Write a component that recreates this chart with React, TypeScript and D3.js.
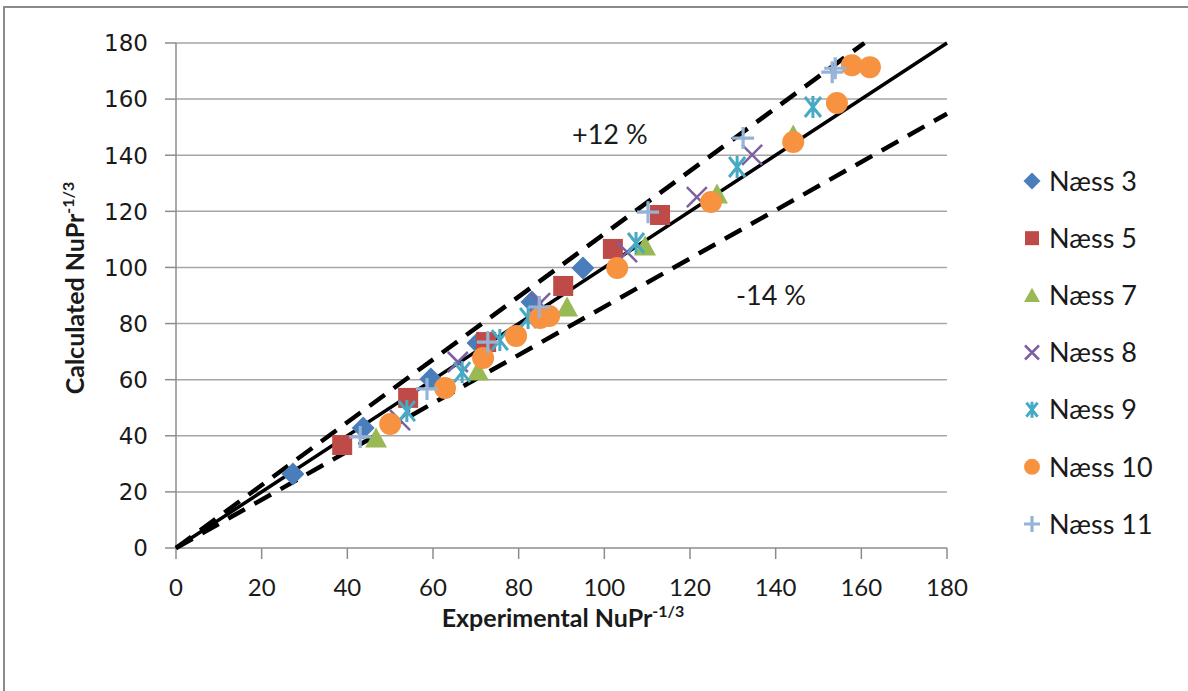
import React from "react";
import * as d3 from "d3";

// Experimental vs calculated NuPr^-1/3 for the Næss data sets
const naess3 = [
  [27.3, 26.4], [43.7, 42.8], [59.5, 60.2], [70.5, 73.1], [83.1, 87.7], [95.0, 99.8],
];
const naess5 = [
  [38.8, 36.7], [54.2, 53.5], [72.4, 73.4], [90.4, 93.4], [102.0, 106.6], [113.0, 118.7],
];
const naess7 = [
  [46.7, 39.2], [70.5, 63.1], [91.3, 85.9], [109.5, 107.6], [126.3, 126.2], [144.1, 147.2],
];
const naess8 = [
  [52.3, 45.6], [65.8, 66.3], [85.0, 87.3], [105.3, 105.5], [121.6, 125.1], [134.5, 140.1],
];
const naess9 = [
  [53.9, 48.8], [66.8, 62.7], [75.6, 74.1], [82.2, 82.0], [107.4, 108.7], [131.0, 135.8], [148.7, 157.2],
];
const naess10 = [
  [50.0, 44.2], [62.8, 57.0], [71.7, 67.7], [79.4, 75.6], [85.0, 82.0], [87.1, 82.7],
  [103.0, 99.8], [124.9, 123.3], [144.1, 144.7], [154.3, 158.6], [157.8, 172.1], [162.0, 171.4],
];
const naess11 = [
  [43.0, 39.6], [58.6, 56.7], [72.8, 73.4], [84.8, 85.9], [110.2, 119.7], [132.4, 146.1],
  [153.2, 169.6], [153.9, 171.0],
];

const seriesNames = ["Næss 3", "Næss 5", "Næss 7", "Næss 8", "Næss 9", "Næss 10", "Næss 11"];
const seriesData = [naess3, naess5, naess7, naess8, naess9, naess10, naess11];
const seriesColors = ["#4A7EBB", "#BE4B48", "#98B954", "#7D60A0", "#46AAC5", "#F69240", "#95B3D7"];
const seriesShapes = ["diamond", "square", "triangle", "x", "star", "circle", "plus"];

// Deviation band around the perfect-agreement line
const upperFactor = 1.12;
const lowerFactor = 0.86;
const axisTicks = [0, 20, 40, 60, 80, 100, 120, 140, 160, 180];

const W = 1188;
const H = 691;
const x = d3.scaleLinear().domain([0, 180]).range([176, 947]);
const y = d3.scaleLinear().domain([0, 180]).range([548, 43]);

function Marker({ shape, color, cx, cy, s }: { shape: string; color: string; cx: number; cy: number; s: number }) {
  const t = `translate(${cx},${cy})`;
  const r = s / 2;
  if (shape === "diamond") {
    const q = r + 1.5;
    return <path d={`M0,${-q}L${q},0L0,${q}L${-q},0Z`} transform={t} fill={color} />;
  }
  if (shape === "square") {
    return <rect x={cx - r} y={cy - r} width={s} height={s} fill={color} />;
  }
  if (shape === "triangle") {
    const h = s * 0.95;
    return (
      <path d={`M0,${-h / 2 - 1} L${r + 1},${h / 2} L${-r - 1},${h / 2} Z`} transform={t} fill={color} />
    );
  }
  if (shape === "circle") {
    return <circle cx={cx} cy={cy} r={r + 1} fill={color} />;
  }
  if (shape === "x") {
    return (
      <path d={`M${-r},${-r}L${r},${r}M${-r},${r}L${r},${-r}`} transform={t} stroke={color} strokeWidth={2.5} fill="none" />
    );
  }
  if (shape === "star") {
    const q = r * 0.8;
    return (
      <path
        d={`M${-q},${-r}L${q},${r}M${-q},${r}L${q},${-r}M0,${-r - 1}L0,${r + 1}`}
        transform={t}
        stroke={color}
        strokeWidth={3}
        fill="none"
      />
    );
  }
  // plus
  return (
    <path d={`M${-r - 1},0L${r + 1},0M0,${-r - 1}L0,${r + 1}`} transform={t} stroke={color} strokeWidth={3.2} fill="none" />
  );
}

export default function App() {
  const line = d3
    .line<number[]>()
    .x((d) => x(d[0]))
    .y((d) => y(d[1]));

  const equal = [[0, 0], [180, 180]];
  const upper = [[0, 0], [180 / upperFactor, 180]];
  const lower = [[0, 0], [180, 180 * lowerFactor]];

  const legendY = d3.scaleLinear().domain([0, 6]).range([181, 524]);

  return (
    <svg
      width={W}
      height={H}
      style={{ position: "absolute", left: 0, top: 0, background: "#fff" }}
      fontFamily="Lato, 'Noto Sans', sans-serif"
    >
      <rect x={0} y={0} width={W} height={H} fill="#fff" />
      <rect x={4} y={7} width={W + 20} height={H + 20} fill="none" stroke="#8a8a8a" strokeWidth={2} />

      {/* horizontal gridlines */}
      {axisTicks.slice(1).map((t) => (
        <line key={`g${t}`} x1={x(0)} x2={x(180)} y1={y(t)} y2={y(t)} stroke="#a6a6a6" strokeWidth={1.5} />
      ))}

      {/* axes */}
      <line x1={x(0)} x2={x(0)} y1={y(0)} y2={y(180)} stroke="#8c8c8c" strokeWidth={1.5} />
      <line x1={x(0)} x2={x(180)} y1={y(0)} y2={y(0)} stroke="#8c8c8c" strokeWidth={1.5} />
      {axisTicks.map((t) => (
        <g key={`yt${t}`}>
          <line x1={x(0) - 11} x2={x(0)} y1={y(t)} y2={y(t)} stroke="#8c8c8c" strokeWidth={1.5} />
          <text
            x={x(0) - 28}
            y={y(t)}
            dy="0.36em"
            textAnchor="end"
            fontFamily="'DejaVu Sans', sans-serif"
            fontSize={23}
            fill="#1a1a1a"
          >
            {t}
          </text>
        </g>
      ))}
      {axisTicks.map((t) => (
        <g key={`xt${t}`}>
          <line x1={x(t)} x2={x(t)} y1={y(0)} y2={y(0)} stroke="#8c8c8c" strokeWidth={1.5} />
          <line x1={x(t)} x2={x(t)} y1={y(0)} y2={y(0) + 11} stroke="#8c8c8c" strokeWidth={1.5} />
          <text x={x(t)} y={y(0) + 48} textAnchor="middle" fontSize={24} fill="#1a1a1a">
            {t}
          </text>
        </g>
      ))}

      {/* axis titles */}
      <text x={563} y={627} textAnchor="middle" fontSize={25} fontWeight="bold" fill="#1a1a1a">
        Experimental NuPr
        <tspan fontSize={16} dy={-10}>-1/3</tspan>
      </text>
      <text
        transform="translate(84,288) rotate(-90)"
        textAnchor="middle"
        fontSize={25}
        fontWeight="bold"
        fill="#1a1a1a"
      >
        Calculated NuPr
        <tspan fontSize={16} dy={-10}>-1/3</tspan>
      </text>

      {/* reference lines */}
      <path d={line(upper) || ""} stroke="#000" strokeWidth={4.5} strokeDasharray="19,11" fill="none" />
      <path d={line(lower) || ""} stroke="#000" strokeWidth={4.5} strokeDasharray="19,11" fill="none" />
      <path d={line(equal) || ""} stroke="#000" strokeWidth={3.5} fill="none" />

      {/* data points */}
      {seriesData.map((data, i) =>
        data.map((d, j) => (
          <Marker key={`m${i}-${j}`} shape={seriesShapes[i]} color={seriesColors[i]} cx={x(d[0])} cy={y(d[1])} s={20} />
        ))
      )}

      {/* band annotations */}
      <text x={572} y={144} fontSize={27} fill="#1a1a1a">+12 %</text>
      <text x={736} y={305} fontSize={27} fill="#1a1a1a">-14 %</text>

      {/* legend */}
      {seriesNames.map((name, i) => (
        <g key={`l${i}`}>
          <Marker shape={seriesShapes[i]} color={seriesColors[i]} cx={1032} cy={legendY(i)} s={14} />
          <text x={1049} y={legendY(i)} dy="0.36em" fontSize={27} fill="#1a1a1a">
            {name}
          </text>
        </g>
      ))}
    </svg>
  );
}
